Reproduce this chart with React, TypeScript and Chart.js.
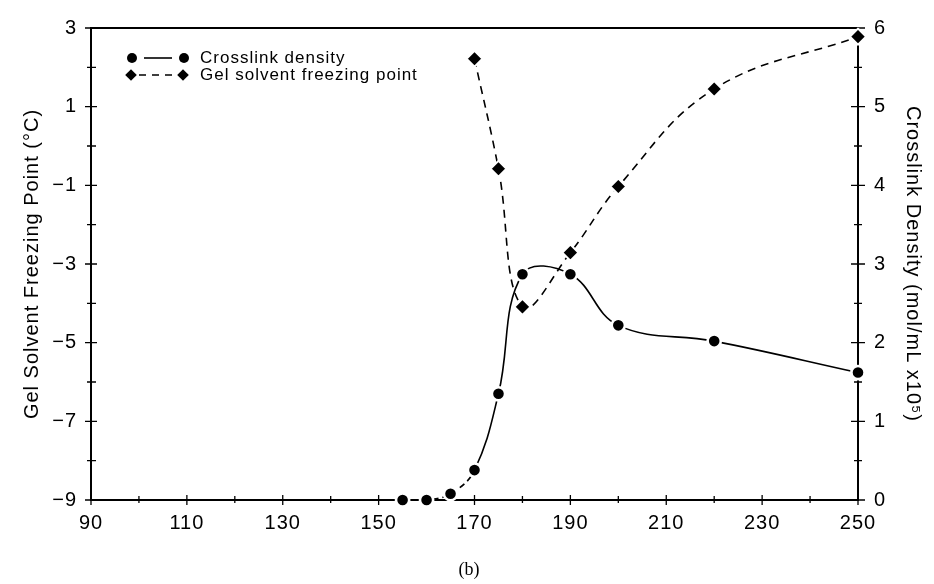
import React, { useEffect, useRef } from "react";
import { Chart, registerables } from "chart.js";

Chart.register(...registerables);

// ---- data ----
const crossTemps = [155, 160, 165, 170, 175, 180, 190, 200, 220, 250];
const crossDensity = [0.0, 0.0, 0.08, 0.38, 1.35, 2.87, 2.87, 2.22, 2.02, 1.62];
const freezeTemps = [170, 175, 180, 190, 200, 220, 250];
const freezePoint = [2.22, -0.58, -4.09, -2.71, -1.03, 1.45, 2.78];

const xTickLabels = [90, 110, 130, 150, 170, 190, 210, 230, 250];
const leftTickLabels = [3, 1, -1, -3, -5, -7, -9];
const rightTickLabels = [0, 1, 2, 3, 4, 5, 6];

const legendLabels = ["Crosslink density", "Gel solvent freezing point"];
const leftTitle = "Gel Solvent Freezing Point (°C)";
const rightTitle = "Crosslink Density (mol/mL x10⁵)";
const caption = "(b)";

const FONT = "'Liberation Sans', Arial, Helvetica, sans-serif";

const fmt = (v: number) => (v < 0 ? "\u2212" + Math.abs(v) : String(v));
const isIn = (arr: number[], v: number) => arr.some((a) => Math.abs(a - v) < 1e-6);

function setSpacing(chart: any) {
  try {
    (chart.ctx as any).letterSpacing = "1px";
  } catch (e) {
    /* ignore */
  }
}

function drawCircle(ctx: CanvasRenderingContext2D, x: number, y: number, r: number) {
  ctx.beginPath();
  ctx.arc(x, y, r, 0, Math.PI * 2);
  ctx.fill();
}
function drawDiamond(ctx: CanvasRenderingContext2D, x: number, y: number, r: number) {
  ctx.beginPath();
  ctx.moveTo(x, y - r);
  ctx.lineTo(x + r, y);
  ctx.lineTo(x, y + r);
  ctx.lineTo(x - r, y);
  ctx.closePath();
  ctx.fill();
}

const framePlugin = {
  id: "frame",
  beforeUpdate(chart: any) {
    setSpacing(chart);
  },
  beforeLayout(chart: any) {
    setSpacing(chart);
  },
  beforeDraw(chart: any) {
    setSpacing(chart);
  },
  beforeDatasetsDraw(chart: any) {
    const { ctx, chartArea } = chart;
    const { left, right, top, bottom } = chartArea;
    const xs = chart.scales.x;
    const yl = chart.scales.y;
    const yr = chart.scales.y2;
    ctx.save();
    ctx.strokeStyle = "#000";
    ctx.lineWidth = 2;
    ctx.beginPath();
    ctx.moveTo(left, top);
    ctx.lineTo(right, top);
    ctx.moveTo(left, top - 1);
    ctx.lineTo(left, bottom + 1);
    ctx.moveTo(right, top - 1);
    ctx.lineTo(right, bottom + 1);
    ctx.moveTo(left - 1, bottom);
    ctx.lineTo(right + 1, bottom);
    ctx.stroke();
    ctx.lineWidth = 1.3;
    ctx.beginPath();
    for (const t of yl.ticks) {
      const y = yl.getPixelForValue(t.value);
      const major = isIn(leftTickLabels, t.value);
      ctx.moveTo(left - (major ? 6 : 4), y);
      ctx.lineTo(left + (major ? 6 : 5), y);
    }
    for (const t of yr.ticks) {
      const y = yr.getPixelForValue(t.value);
      const major = isIn(rightTickLabels, t.value);
      ctx.moveTo(right - (major ? 7 : 4), y);
      ctx.lineTo(right + (major ? 7 : 4), y);
    }
    for (const t of xs.ticks) {
      const x = xs.getPixelForValue(t.value);
      const major = isIn(xTickLabels, t.value);
      ctx.moveTo(x, bottom - (major ? 5 : 4));
      ctx.lineTo(x, bottom + (major ? 5 : 3));
    }
    ctx.stroke();
    ctx.restore();
  },
  afterDraw(chart: any) {
    const { ctx } = chart;
    ctx.save();
    ctx.fillStyle = "#000";
    ctx.strokeStyle = "#000";
    ctx.font = `17px ${FONT}`;
    ctx.textBaseline = "middle";
    ctx.textAlign = "left";
    // row 1
    const y1 = 58;
    drawCircle(ctx, 132, y1, 5);
    ctx.lineWidth = 1.6;
    ctx.beginPath();
    ctx.moveTo(144, y1);
    ctx.lineTo(172, y1);
    ctx.stroke();
    drawCircle(ctx, 184, y1, 5);
    ctx.fillText(legendLabels[0], 200, y1);
    // row 2
    const y2 = 75;
    drawDiamond(ctx, 131, y2, 5.8);
    ctx.setLineDash([7, 6]);
    ctx.beginPath();
    ctx.moveTo(139, y2);
    ctx.lineTo(176, y2);
    ctx.stroke();
    ctx.setLineDash([]);
    drawDiamond(ctx, 183, y2, 5.8);
    ctx.fillText(legendLabels[1], 200, y2);
    ctx.restore();
  },
};

export default function App() {
  const ref = useRef<HTMLCanvasElement | null>(null);

  useEffect(() => {
    document.body.style.margin = "0";
    const canvas = ref.current;
    if (!canvas) return;
    const chart = new Chart(canvas, {
      type: "line",
      data: {
        datasets: [
          {
            label: legendLabels[0],
            data: crossTemps.map((t, i) => ({ x: t, y: crossDensity[i] })),
            yAxisID: "y2",
            borderColor: "#000",
            borderWidth: 1.6,
            tension: 0.4,
            pointStyle: "circle",
            pointRadius: 6.6,
            pointBorderWidth: 2.6,
            pointBorderColor: "#fff",
            pointBackgroundColor: "#000",
            clip: false as any,
            segment: {
              borderDash: (c: any) => (c.p0.parsed.x < 170 ? [6, 4] : undefined),
            },
          },
          {
            label: legendLabels[1],
            data: freezeTemps.map((t, i) => ({ x: t, y: freezePoint[i] })),
            yAxisID: "y",
            borderColor: "#000",
            borderWidth: 1.6,
            borderDash: [8, 6],
            tension: 0.4,
            pointStyle: "rectRot",
            pointRadius: 8,
            pointBorderWidth: 2,
            pointBorderColor: "#fff",
            pointBackgroundColor: "#000",
            clip: false as any,
          },
        ],
      },
      options: {
        animation: false,
        responsive: true,
        maintainAspectRatio: false,
        layout: { padding: { top: 21, left: 0, right: 0, bottom: 0 } },
        plugins: { legend: { display: false }, tooltip: { enabled: false } },
        scales: {
          x: {
            type: "linear",
            min: 90,
            max: 250,
            grid: { display: false, drawTicks: false },
            border: { display: false },
            ticks: {
              stepSize: 10,
              autoSkip: false,
              maxRotation: 0,
              padding: 11,
              color: "#000",
              font: { family: FONT, size: 20 },
              callback: (v: any) => (isIn(xTickLabels, Number(v)) ? String(v) : ""),
            },
            afterFit: (s: any) => {
              s.height = 84;
            },
          },
          y: {
            type: "linear",
            position: "left",
            min: -9,
            max: 3,
            grid: { display: false, drawTicks: false },
            border: { display: false },
            ticks: {
              stepSize: 1,
              autoSkip: false,
              padding: 14,
              color: "#000",
              font: { family: FONT, size: 20 },
              callback: (v: any) => (isIn(leftTickLabels, Number(v)) ? fmt(Number(v)) : ""),
            },
            title: {
              display: true,
              text: leftTitle,
              color: "#000",
              font: { family: FONT, size: 20 },
              padding: { top: 20, bottom: 0 },
            },
            afterFit: (s: any) => {
              s.width = 91;
            },
          },
          y2: {
            type: "linear",
            position: "right",
            min: 0,
            max: 6,
            grid: { display: false, drawTicks: false },
            border: { display: false },
            ticks: {
              stepSize: 0.5,
              autoSkip: false,
              padding: 16,
              color: "#000",
              font: { family: FONT, size: 20 },
              callback: (v: any) => (isIn(rightTickLabels, Number(v)) ? String(v) : ""),
            },
            title: {
              display: true,
              text: rightTitle,
              color: "#000",
              font: { family: FONT, size: 20 },
              padding: { top: 9, bottom: 0 },
            },
            afterFit: (s: any) => {
              s.width = 76;
            },
          },
        },
      },
      plugins: [framePlugin],
    });
    return () => chart.destroy();
  }, []);

  return (
    <div style={{ position: "relative", width: 934, height: 584, background: "#fff" }}>
      <canvas ref={ref} />
      <div
        style={{
          position: "absolute",
          left: 0,
          width: 938,
          top: 558,
          textAlign: "center",
          fontFamily: "'Liberation Serif', 'Times New Roman', serif",
          fontSize: 18,
          lineHeight: "22px",
          color: "#000",
        }}
      >
        {caption}
      </div>
    </div>
  );
}
